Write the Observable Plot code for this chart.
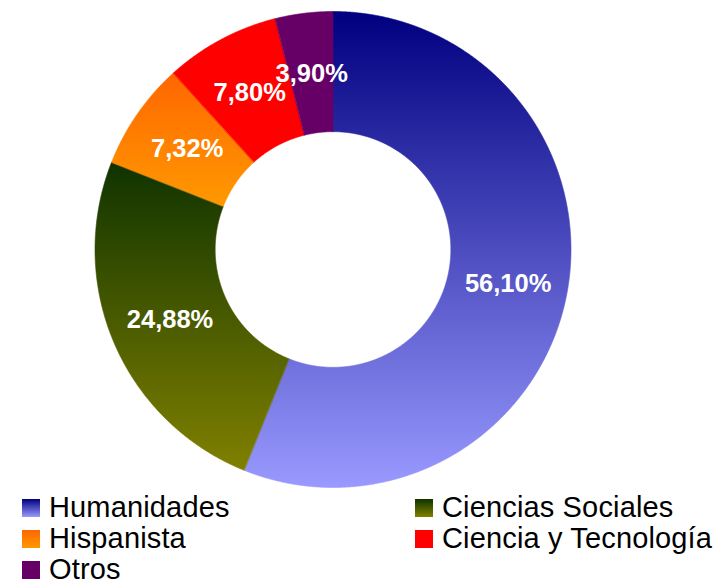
<!DOCTYPE html>
<html><head><meta charset="utf-8">
<script src="https://cdn.jsdelivr.net/npm/d3@7"></script>
<script src="https://cdn.jsdelivr.net/npm/@observablehq/plot@0.6"></script>
<style>
body{margin:0;background:#fff;font-family:"Liberation Sans",Arial,sans-serif;}
#chart svg{display:block;}
#legend{display:grid;grid-template-columns:393px 305px;padding-left:22px;padding-top:2px;}
.item{display:flex;align-items:center;height:31px;font-size:29px;letter-spacing:0.15px;color:#000;white-space:nowrap;}
.sw{width:18px;height:18px;margin-right:9px;flex:none;}
</style></head><body><div id="chart"></div><div id="legend"></div>
<script>
const categories = ["Humanidades","Ciencias Sociales","Hispanista","Ciencia y Tecnología","Otros"];
const values = [56.10, 24.88, 7.32, 7.80, 3.90];
const labels = ["56,10%","24,88%","7,32%","7,80%","3,90%"];
const colorTop = ["#000080","#0f3300","#ff6600","#ff0000","#660066"];
const colorBottom = ["#9999ff","#808000","#ff9900","#ff0000","#660066"];

const innerRatio = 0.495;
const arcs = d3.pie().sort(null).value(d => d)(values);

const marks = [];
arcs.forEach((a, i) => {
  const n = Math.max(2, Math.ceil((a.endAngle - a.startAngle) / 0.004) + 1);
  const pts = d3.range(n).map(k => {
    const t = a.startAngle + (a.endAngle - a.startAngle) * k / (n - 1);
    return {x1: innerRatio * Math.sin(t), y1: innerRatio * Math.cos(t), x2: Math.sin(t), y2: Math.cos(t)};
  });
  marks.push(Plot.area(pts, {x1: "x1", y1: "y1", x2: "x2", y2: "y2", fill: `url(#g${i})`, stroke: `url(#g${i})`, strokeWidth: 0.6, curve: "linear"}));
});

const labelData = arcs.map((a, i) => {
  const m = (a.startAngle + a.endAngle) / 2, r = (1 + innerRatio) / 2;
  return {x: r * Math.sin(m), y: r * Math.cos(m), label: labels[i]};
});
marks.push(Plot.text(labelData, {x: "x", y: "y", text: "label", fill: "white", fontSize: 25.5, fontWeight: "bold", fontFamily: "Liberation Sans, Arial, sans-serif"}));

const svg = Plot.plot({
  width: 718, height: 490,
  margin: 0,
  x: {domain: [-1, 1], range: [95, 571], axis: null},
  y: {domain: [-1, 1], range: [487.5, 11.5], axis: null},
  marks
});
const defs = d3.select(svg).insert("defs", ":first-child");
categories.forEach((c, i) => {
  const g = defs.append("linearGradient").attr("id", `g${i}`).attr("x1", 0).attr("y1", 0).attr("x2", 0).attr("y2", 1);
  g.append("stop").attr("offset", "0%").attr("stop-color", colorTop[i]);
  g.append("stop").attr("offset", "100%").attr("stop-color", colorBottom[i]);
});
document.getElementById("chart").appendChild(svg);

const legend = d3.select("#legend");
categories.forEach((c, i) => {
  const it = legend.append("div").attr("class", "item");
  it.append("div").attr("class", "sw").style("background", `linear-gradient(to bottom, ${colorTop[i]}, ${colorBottom[i]})`);
  it.append("span").text(c);
});
</script></body></html>
